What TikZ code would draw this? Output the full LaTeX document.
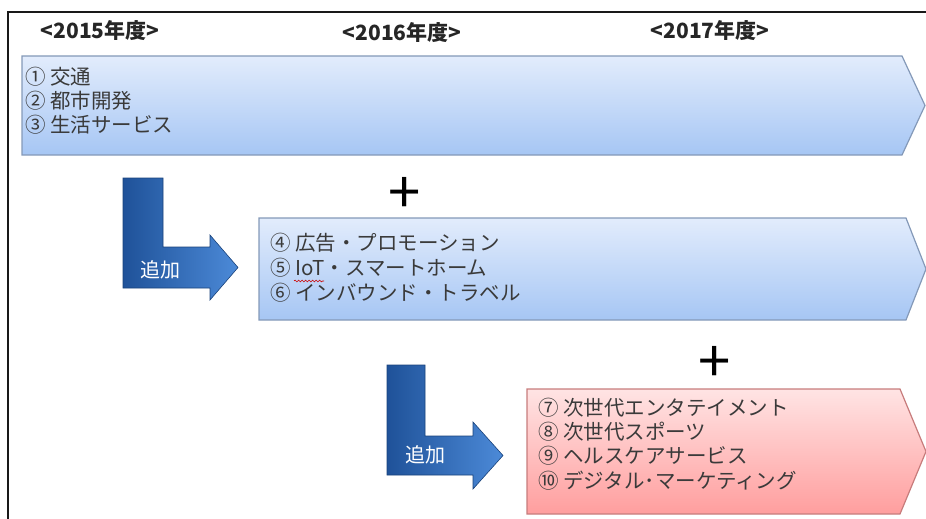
\documentclass[tikz,border=0pt]{standalone}
\usepackage{fontspec}
\newfontfamily\jp{Noto Sans CJK JP}
\usetikzlibrary{decorations.pathmorphing}
\definecolor{txt}{HTML}{3A3A3A}
\definecolor{bluetop}{HTML}{E2ECFC}
\definecolor{bluebot}{HTML}{A6C6F4}
\definecolor{blueedge}{HTML}{8499B8}
\definecolor{redtop}{HTML}{FFE4E4}
\definecolor{redbot}{HTML}{FF9E9E}
\definecolor{rededge}{HTML}{C77C7C}
\definecolor{ldark}{HTML}{1F5299}
\definecolor{llight}{HTML}{4C8AD8}
\tikzset{
  bluearrow/.style={top color=bluetop, bottom color=bluebot, draw=blueedge, line width=1.2pt},
  redarrow/.style={top color=redtop, bottom color=redbot, draw=rededge, line width=1.2pt},
  larrow/.style={left color=ldark, right color=llight, draw=ldark!80!black, line width=0.6pt},
  item/.style={anchor=west, inner sep=0pt, font=\jp\fontsize{20.5}{24}\selectfont, text=txt},
  yearlabel/.style={inner sep=0pt, font=\jp\bfseries\fontsize{21}{25}\selectfont, text=black!85},
  addlabel/.style={inner sep=0pt, font=\jp\fontsize{20}{24}\selectfont, text=white},
  plussign/.style={inner sep=0pt, font=\jp\fontsize{58}{62}\selectfont, text=black}
}
\begin{document}
\begin{tikzpicture}[x=1pt,y=-1pt]
\useasboundingbox (0,0) rectangle (926,519);
% outer frame
\draw[line width=2pt, black!90] (8,540) -- (8,12) -- (940,12);
% year headers
\node[yearlabel] (y15) at (100,31) {<2015年度>};
\node[yearlabel] (y16) at (402,33) {<2016年度>};
\node[yearlabel] (y17) at (710,31) {<2017年度>};
% first blue arrow
\path[bluearrow] (22,56) -- (902,56) -- (925,105.5) -- (902,155) -- (22,155) -- cycle;
\node[item] (i1) at (25,77) {① 交通};
\node[item] (i2) at (25,101) {② 都市開発};
\node[item] (i3) at (25,125) {③ 生活サービス};
% first L arrow
\path[larrow] (123,178) -- (163,178) -- (163,247) -- (210,247) -- (210,235) -- (238,267.5) -- (210,300) -- (210,288) -- (123,288) -- cycle;
\node[addlabel] (add1) at (160,270) {追加};
\node[plussign] (plus1) at (405,195) {+};
% second blue arrow
\path[bluearrow] (259,218) -- (906,218) -- (926,269) -- (906,320) -- (259,320) -- cycle;
\node[item] (i4) at (270,243) {④ 広告・プロモーション};
\node[item] (i5) at (270,268) {⑤ IoT・スマートホーム};
\node[item] (i6) at (270,293) {⑥ インバウンド・トラベル};
\draw[red!80!black, line width=0.6pt, decorate, decoration={snake, amplitude=0.9pt, segment length=3.5pt}] (294,281) -- (324,281);
% second L arrow
\path[larrow] (387,365) -- (425,365) -- (425,436) -- (473,436) -- (473,422) -- (503,455.5) -- (473,489) -- (473,475) -- (387,475) -- cycle;
\node[addlabel] (add2) at (425,455) {追加};
\node[plussign] (plus2) at (715,364) {+};
% red arrow
\path[redarrow] (527,389) -- (900,389) -- (926,451.5) -- (900,514) -- (527,514) -- cycle;
\node[item] (i7) at (538,408) {⑦ 次世代エンタテイメント};
\node[item] (i8) at (538,432) {⑧ 次世代スポーツ};
\node[item] (i9) at (538,456) {⑨ ヘルスケアサービス};
\node[item] (i10) at (538,481) {⑩ デジタル･マーケティング};
\end{tikzpicture}
\end{document}
